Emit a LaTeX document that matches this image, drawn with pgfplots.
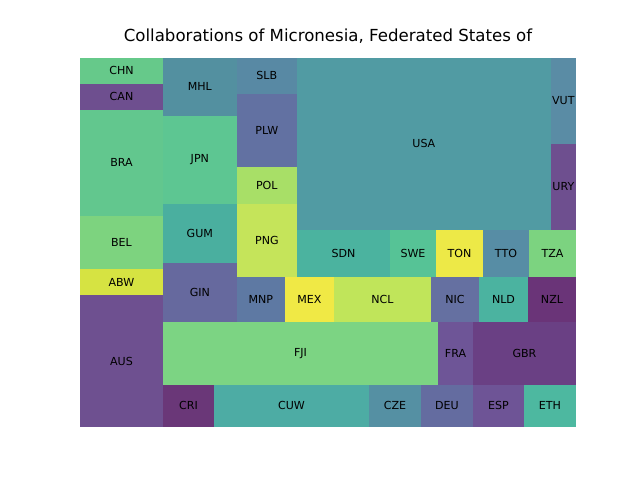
\documentclass[border=0pt]{standalone}
\usepackage{fontspec}
\setmainfont{DejaVu Sans}
\usepackage{pgfplots}
\pgfplotsset{compat=1.18}
\definecolor{cCHN}{HTML}{66C98A}
\definecolor{cCAN}{HTML}{6E4F8F}
\definecolor{cBRA}{HTML}{62C78E}
\definecolor{cBEL}{HTML}{7DD37F}
\definecolor{cABW}{HTML}{D6E342}
\definecolor{cAUS}{HTML}{6E5090}
\definecolor{cMHL}{HTML}{5390A0}
\definecolor{cJPN}{HTML}{5DC692}
\definecolor{cGUM}{HTML}{4AAF9F}
\definecolor{cGIN}{HTML}{66699E}
\definecolor{cSLB}{HTML}{5889A4}
\definecolor{cPLW}{HTML}{6271A2}
\definecolor{cPOL}{HTML}{A8DF67}
\definecolor{cPNG}{HTML}{C5E45A}
\definecolor{cUSA}{HTML}{519BA3}
\definecolor{cVUT}{HTML}{5A8CA5}
\definecolor{cURY}{HTML}{6E4F8F}
\definecolor{cSDN}{HTML}{4BB39F}
\definecolor{cSWE}{HTML}{56C396}
\definecolor{cTON}{HTML}{EDE947}
\definecolor{cTTO}{HTML}{578DA5}
\definecolor{cTZA}{HTML}{7CD380}
\definecolor{cMNP}{HTML}{5E79A3}
\definecolor{cMEX}{HTML}{F0E945}
\definecolor{cNCL}{HTML}{C0E55A}
\definecolor{cNIC}{HTML}{6570A1}
\definecolor{cNLD}{HTML}{4BB3A0}
\definecolor{cNZL}{HTML}{6A3478}
\definecolor{cFJI}{HTML}{7CD483}
\definecolor{cFRA}{HTML}{6E5597}
\definecolor{cGBR}{HTML}{6A4084}
\definecolor{cCRI}{HTML}{6A3778}
\definecolor{cCUW}{HTML}{4DACA4}
\definecolor{cCZE}{HTML}{5590A3}
\definecolor{cDEU}{HTML}{646CA0}
\definecolor{cESP}{HTML}{6E5496}
\definecolor{cETH}{HTML}{4DB8A0}
% cell: name, x0, y0, x1, y1, cx, cy
\newcommand\cell[7]{%
  \addplot[fill=c#1, draw=none] coordinates {(#2,#3) (#4,#3) (#4,#5) (#2,#5)} -- cycle;
  \node[font=\fontsize{8}{10}\selectfont, text=black] at (axis cs:#6,#7) {#1};
}
\begin{document}
\begin{tikzpicture}
\begin{axis}[
  scale only axis, width=4.96in, height=3.696in,
  xmin=80, xmax=576, ymin=57.6, ymax=427.2, y dir=reverse,
  hide axis, clip=false,
  title={Collaborations of Micronesia, Federated States of},
  title style={font=\fontsize{12}{14.4}\selectfont, yshift=1pt},
]
\cell{CHN}{80}{57.6}{163}{83.7}{121.5}{70.85}
\cell{CAN}{80}{83.7}{163}{110}{121.5}{96.85}
\cell{BRA}{80}{110}{163}{215.7}{121.5}{162.85}
\cell{BEL}{80}{215.7}{163}{269}{121.5}{242.35}
\cell{ABW}{80}{269}{163}{295}{121.5}{282}
\cell{AUS}{80}{295}{163}{427.2}{121.5}{361.1}
\cell{MHL}{163}{57.6}{236.7}{115.7}{199.85}{86.85}
\cell{JPN}{163}{115.7}{236.7}{204}{199.85}{159.85}
\cell{GUM}{163}{204}{236.7}{263}{199.85}{233.5}
\cell{GIN}{163}{263}{236.7}{322}{199.85}{292.5}
\cell{SLB}{236.7}{57.6}{297}{93.7}{266.85}{75.85}
\cell{PLW}{236.7}{93.7}{297}{167}{266.85}{130.35}
\cell{POL}{236.7}{167}{297}{203.7}{266.85}{185.35}
\cell{PNG}{236.7}{203.7}{297}{277}{266.85}{240.35}
\cell{USA}{297}{57.6}{550.7}{229.7}{423.85}{143.85}
\cell{VUT}{550.7}{57.6}{576}{144}{563.35}{101}
\cell{URY}{550.7}{144}{576}{229.7}{563.35}{186.85}
\cell{SDN}{297}{229.7}{390}{277}{343.5}{253.35}
\cell{SWE}{390}{229.7}{436}{277}{413}{253.35}
\cell{TON}{436}{229.7}{483}{277}{459.5}{253.35}
\cell{TTO}{483}{229.7}{529}{277}{506}{253.35}
\cell{TZA}{529}{229.7}{576}{277}{552.5}{253.35}
\cell{MNP}{236.7}{277}{285}{322}{260.85}{299.5}
\cell{MEX}{285}{277}{334}{322}{309.5}{299.5}
\cell{NCL}{334}{277}{431}{322}{382.5}{299.5}
\cell{NIC}{431}{277}{479}{322}{455}{299.5}
\cell{NLD}{479}{277}{528}{322}{503.5}{299.5}
\cell{NZL}{528}{277}{576}{322}{552}{299.5}
\cell{FJI}{163}{322}{438}{384.7}{300.5}{353.35}
\cell{FRA}{438}{322}{473}{384.7}{455.5}{353.35}
\cell{GBR}{473}{322}{576}{384.7}{524.5}{353.35}
\cell{CRI}{163}{384.7}{214}{427.2}{188.5}{405.95}
\cell{CUW}{214}{384.7}{369}{427.2}{291.5}{405.95}
\cell{CZE}{369}{384.7}{421}{427.2}{395}{405.95}
\cell{DEU}{421}{384.7}{473}{427.2}{447}{405.95}
\cell{ESP}{473}{384.7}{524}{427.2}{498.5}{405.95}
\cell{ETH}{524}{384.7}{576}{427.2}{550}{405.95}
\end{axis}
\path (current axis.south west) ++(-0.8in,-0.528in) rectangle ++(6.4in,4.8in);
\end{tikzpicture}
\end{document}
